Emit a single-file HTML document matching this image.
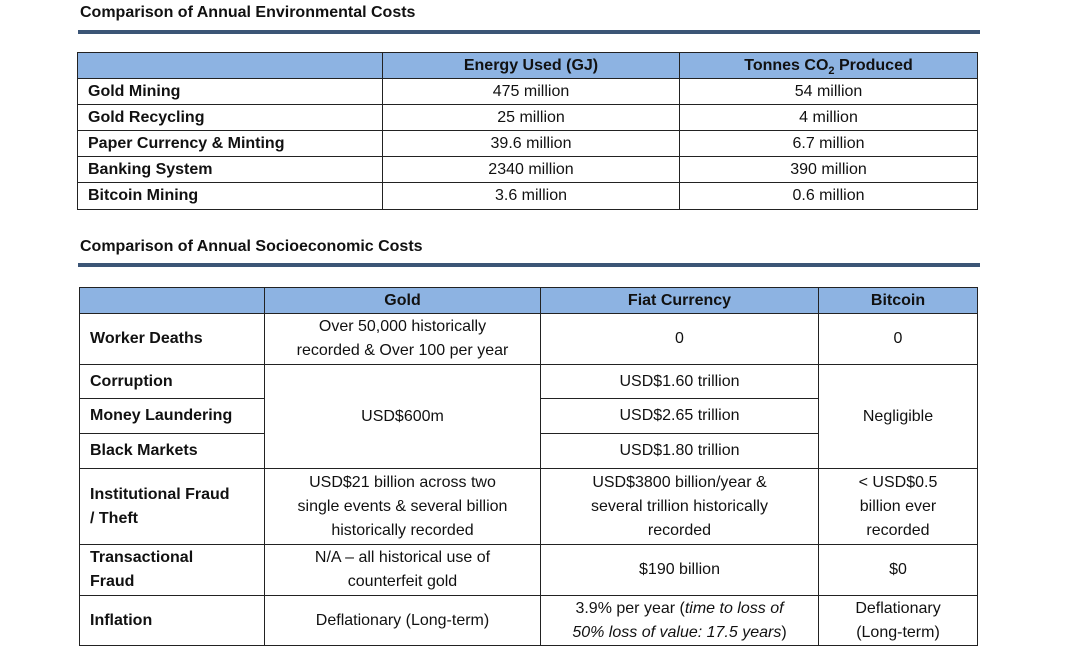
<!DOCTYPE html>
<html><head><meta charset="utf-8"><style>
body{margin:0;width:1080px;height:664px;background:#fff;position:relative;overflow:hidden;font-family:"Liberation Sans",sans-serif;color:#111}
.t{position:absolute;font-weight:bold;font-size:16px;left:80px}
.rule{position:absolute;left:78px;width:902px;height:4px;background:#3b5576}
.c{position:absolute;box-sizing:border-box;border:1px solid #222;display:flex;align-items:center;justify-content:center;text-align:center;font-size:16px;line-height:24px;margin:-1px 0 0 -1px}
.h{background:#8db3e2;font-weight:bold}
.l{justify-content:flex-start;padding-left:10px;font-weight:bold;text-align:left}
</style></head><body>
<div class="t" style="top:4px">Comparison of Annual Environmental Costs</div>
<div class="rule" style="top:30px"></div>
<div id="t1"></div>
<div class="t" style="top:238px">Comparison of Annual Socioeconomic Costs</div>
<div class="rule" style="top:263px"></div>
<div id="t2"></div>
<script>
function cell(parent,x1,y1,x2,y2,html,cls,name){
  var d=document.createElement('div');
  d.className='c '+(cls||'');
  d.style.left=x1+'px';d.style.top=y1+'px';
  d.style.width=(x2-x1+1)+'px';d.style.height=(y2-y1+1)+'px';
  d.innerHTML='<span>'+html+'</span>';
  
  
  parent.appendChild(d);
}
var t1=document.getElementById('t1');
var c1=[78,383,680,978];
var r1=[53,79,105,131,157,183,210];
var envRows=['Gold Mining','Gold Recycling','Paper Currency &amp; Minting','Banking System','Bitcoin Mining'];
var energy=['475 million','25 million','39.6 million','2340 million','3.6 million'];
var co2=['54 million','4 million','6.7 million','390 million','0.6 million'];
cell(t1,c1[0],r1[0],c1[1],r1[1],'','h','header-blank');
cell(t1,c1[1],r1[0],c1[2],r1[1],'Energy Used (GJ)','h','header-energy');
cell(t1,c1[2],r1[0],c1[3],r1[1],'Tonnes CO<sub style="font-size:11px;line-height:0">2</sub> Produced','h','header-co2');
for(var i=0;i<5;i++){
  cell(t1,c1[0],r1[i+1],c1[1],r1[i+2],envRows[i],'l','row-label');
  cell(t1,c1[1],r1[i+1],c1[2],r1[i+2],energy[i],'','energy-cell');
  cell(t1,c1[2],r1[i+1],c1[3],r1[i+2],co2[i],'','co2-cell');
}
var t2=document.getElementById('t2');
var X=[80,265,541,819,978];
var Y=[288,314,365,399,434,469,545,596,646];
cell(t2,X[0],Y[0],X[1],Y[1],'','h','header-blank');
cell(t2,X[1],Y[0],X[2],Y[1],'Gold','h','header-gold');
cell(t2,X[2],Y[0],X[3],Y[1],'Fiat Currency','h','header-fiat');
cell(t2,X[3],Y[0],X[4],Y[1],'Bitcoin','h','header-bitcoin');
var labels=['Worker Deaths','Corruption','Money Laundering','Black Markets','Institutional Fraud<br>/ Theft','Transactional<br>Fraud','Inflation'];
for(var i=0;i<7;i++){cell(t2,X[0],Y[i+1],X[1],Y[i+2],labels[i],'l','row-label');}
cell(t2,X[1],Y[1],X[2],Y[2],'Over 50,000 historically<br>recorded &amp; Over 100 per year','','gold-cell');
cell(t2,X[2],Y[1],X[3],Y[2],'0','','fiat-cell');
cell(t2,X[3],Y[1],X[4],Y[2],'0','','bitcoin-cell');
cell(t2,X[1],Y[2],X[2],Y[5],'USD$600m','','gold-cell');
cell(t2,X[2],Y[2],X[3],Y[3],'USD$1.60 trillion','','fiat-cell');
cell(t2,X[2],Y[3],X[3],Y[4],'USD$2.65 trillion','','fiat-cell');
cell(t2,X[2],Y[4],X[3],Y[5],'USD$1.80 trillion','','fiat-cell');
cell(t2,X[3],Y[2],X[4],Y[5],'Negligible','','bitcoin-cell');
cell(t2,X[1],Y[5],X[2],Y[6],'USD$21 billion across two<br>single events &amp; several billion<br>historically recorded','','gold-cell');
cell(t2,X[2],Y[5],X[3],Y[6],'USD$3800 billion/year &amp;<br>several trillion historically<br>recorded','','fiat-cell');
cell(t2,X[3],Y[5],X[4],Y[6],'&lt; USD$0.5<br>billion ever<br>recorded','','bitcoin-cell');
cell(t2,X[1],Y[6],X[2],Y[7],'N/A – all historical use of<br>counterfeit gold','','gold-cell');
cell(t2,X[2],Y[6],X[3],Y[7],'$190 billion','','fiat-cell');
cell(t2,X[3],Y[6],X[4],Y[7],'$0','','bitcoin-cell');
cell(t2,X[1],Y[7],X[2],Y[8],'Deflationary (Long-term)','','gold-cell');
cell(t2,X[2],Y[7],X[3],Y[8],'3.9% per year (<i>time to loss of<br>50% loss of value: 17.5 years</i>)','','fiat-cell');
cell(t2,X[3],Y[7],X[4],Y[8],'Deflationary<br>(Long-term)','','bitcoin-cell');
</script>
</body></html>
